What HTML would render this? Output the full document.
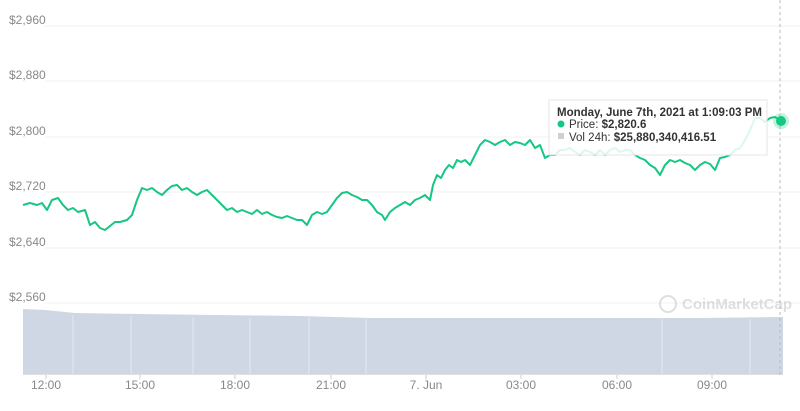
<!DOCTYPE html>
<html><head><meta charset="utf-8"><style>
body{margin:0;background:#fff;width:800px;height:406px;overflow:hidden;font-family:"Liberation Sans",sans-serif}
</style></head><body>
<svg width="800" height="406" xmlns="http://www.w3.org/2000/svg" font-family="Liberation Sans, sans-serif">
<g stroke="#f0f0f0" stroke-width="1">
<line x1="45" y1="26" x2="800" y2="26"/><line x1="45" y1="81" x2="800" y2="81"/>
<line x1="45" y1="137" x2="800" y2="137"/><line x1="45" y1="192" x2="800" y2="192"/>
<line x1="45" y1="248" x2="800" y2="248"/><line x1="45" y1="303" x2="800" y2="303"/>
</g>
<g fill="#888" font-size="12">
<text x="9" y="24">$2,960</text><text x="9" y="79">$2,880</text><text x="9" y="135">$2,800</text>
<text x="9" y="190">$2,720</text><text x="9" y="246">$2,640</text><text x="9" y="301">$2,560</text>
</g>
<path d="M23 374 L23 309 L45 310 L75 313 L140 314 L300 316 L370 318 L540 318 L700 318 L783 317 L783 374 Z" fill="#cfd6e4"/>
<g stroke="#e4e8f0" stroke-width="1">
<line x1="73" y1="315" x2="73" y2="374"/><line x1="131" y1="316" x2="131" y2="374"/><line x1="193" y1="317" x2="193" y2="374"/><line x1="250" y1="318" x2="250" y2="374"/><line x1="309" y1="318" x2="309" y2="374"/><line x1="366" y1="319" x2="366" y2="374"/><line x1="662" y1="319" x2="662" y2="374"/><line x1="750" y1="319" x2="750" y2="374"/>
</g>
<line x1="23" y1="374.5" x2="783" y2="374.5" stroke="#e0e0e0"/>
<g stroke="#ccc"><line x1="46" y1="375" x2="46" y2="379"/><line x1="140" y1="375" x2="140" y2="379"/><line x1="235" y1="375" x2="235" y2="379"/><line x1="331" y1="375" x2="331" y2="379"/><line x1="426" y1="375" x2="426" y2="379"/><line x1="521" y1="375" x2="521" y2="379"/><line x1="617" y1="375" x2="617" y2="379"/><line x1="712" y1="375" x2="712" y2="379"/></g>
<g fill="#888" font-size="12" text-anchor="middle">
<text x="46" y="389">12:00</text><text x="140" y="389">15:00</text><text x="235" y="389">18:00</text><text x="331" y="389">21:00</text><text x="426" y="389">7. Jun</text><text x="521" y="389">03:00</text><text x="617" y="389">06:00</text><text x="712" y="389">09:00</text>
</g>
<g opacity="0.35" fill="#a0a4b0"><circle cx="668" cy="304" r="8" fill="none" stroke="#a0a4b0" stroke-width="2"/><text x="682" y="309" font-size="15" font-weight="bold">CoinMarketCap</text></g>
<polyline fill="none" stroke="#16c784" stroke-width="2" stroke-linejoin="round" points="23,205 30,203 37,205 42,203 47,210 52,200 58,198 63,205 68,210 73,208 78,212 85,210 90,225 95,222 100,228 105,230 110,226 115,222 120,222 127,220 132,215 137,200 142,188 147,190 152,188 157,192 162,195 167,190 172,186 177,185 182,190 187,188 192,192 197,195 202,192 207,190 212,195 217,200 222,205 227,210 232,208 237,212 242,210 247,212 252,214 257,210 262,214 267,212 272,215 277,217 282,218 287,216 292,218 297,220 302,220 307,225 312,215 317,212 322,214 327,212 332,205 337,198 342,193 347,192 352,195 357,197 362,200 367,200 372,205 377,212 382,215 385,220 390,212 395,208 400,205 405,202 410,205 415,200 420,198 425,195 430,200 433,185 437,175 441,178 445,170 449,165 453,168 457,160 461,162 465,160 470,165 475,155 480,145 485,140 490,142 495,145 500,142 505,140 510,145 515,142 520,143 525,145 530,140 535,148 540,145 545,158 550,155 555,155 560,150 565,150 570,148 575,152 580,155 585,150 590,152 595,155 600,150 605,155 610,150 615,148 620,152 625,150 630,150 635,155 640,158 645,160 650,165 655,168 660,175 665,165 670,160 675,162 680,160 685,163 690,165 695,170 700,165 705,162 710,164 715,170 720,158 725,157 730,155 735,150 740,148 745,140 750,130 755,118 760,118 765,122 770,118 775,117 781,121"/>
<line x1="780" y1="0" x2="780" y2="375" stroke="#bbb" stroke-dasharray="3,3"/>
<rect x="549" y="100" width="218" height="55" fill="#fff" fill-opacity="0.85" stroke="#e6e6e6"/>
<text x="557" y="116" font-size="11.5" font-weight="bold" fill="#333">Monday, June 7th, 2021 at 1:09:03 PM</text>
<circle cx="561" cy="124" r="3.5" fill="#16c784"/>
<text x="569" y="128" font-size="11.5" fill="#333">Price: <tspan font-weight="bold">$2,820.6</tspan></text>
<rect x="558" y="133" width="6" height="6" fill="#d0d0d0"/>
<text x="569" y="141" font-size="11.5" fill="#333">Vol 24h: <tspan font-weight="bold">$25,880,340,416.51</tspan></text>
<circle cx="781" cy="121" r="8" fill="#16c784" fill-opacity="0.25"/>
<circle cx="781" cy="121" r="5" fill="#16c784"/>
</svg>
</body></html>
